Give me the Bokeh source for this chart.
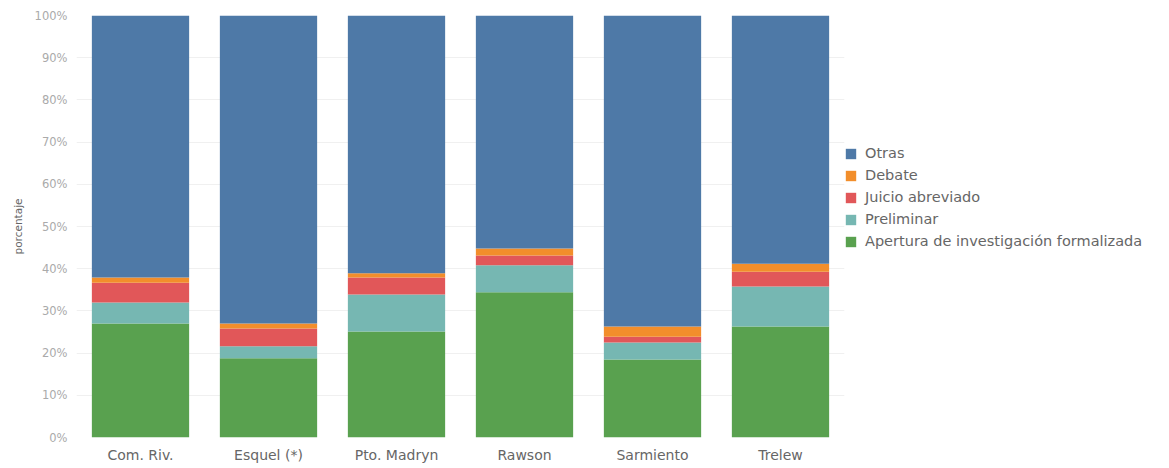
from bokeh.plotting import figure
from bokeh.models import ColumnDataSource, FixedTicker, PrintfTickFormatter, Legend, LegendItem, Range1d, FactorRange
from bokeh.embed import file_html
from bokeh.resources import INLINE

categories = ["Com. Riv.", "Esquel (*)", "Pto. Madryn", "Rawson", "Sarmiento", "Trelew"]
apertura = [27.0, 18.8, 25.1, 34.4, 18.5, 26.3]
preliminar = [5.0, 2.8, 8.8, 6.4, 4.0, 9.5]
juicio = [4.7, 4.2, 4.0, 2.3, 1.4, 3.5]
debate = [1.2, 1.2, 1.0, 1.7, 2.4, 1.9]
otras = [62.1, 73.0, 61.1, 55.2, 73.7, 58.8]

series = ["Apertura de investigación formalizada", "Preliminar", "Juicio abreviado", "Debate", "Otras"]
colors = ["#59A14F", "#76B7B2", "#E15759", "#F28E2B", "#4E79A7"]

src = ColumnDataSource(dict(cat=categories, s0=apertura, s1=preliminar, s2=juicio, s3=debate, s4=otras))

FONT = "DejaVu Sans"

p = figure(x_range=FactorRange(*categories), y_range=Range1d(0, 100),
           frame_width=768, frame_height=422, output_backend="svg", toolbar_location=None,
           min_border_left=76, min_border_right=10, min_border_top=15, min_border_bottom=28)
p.x_range.range_padding = 0

renderers = p.vbar_stack(["s0", "s1", "s2", "s3", "s4"], x="cat", width=0.76, color=colors,
                         source=src, line_color=None)

items = [LegendItem(label=series[i], renderers=[renderers[i]]) for i in range(4, -1, -1)]
legend = Legend(items=items, location=(0, 188), orientation="vertical",
                glyph_width=13, glyph_height=13, label_height=13, spacing=6,
                padding=0, margin=0, border_line_color=None, background_fill_alpha=0,
                label_text_font=FONT, label_text_font_size="14.5px",
                label_text_color="#666666", label_standoff=8)
p.add_layout(legend, "right")

p.outline_line_color = None
p.xgrid.grid_line_color = None
p.ygrid.grid_line_color = "#f0f0f0"
p.ygrid.ticker = FixedTicker(ticks=list(range(0, 101, 10)))

p.yaxis.ticker = FixedTicker(ticks=list(range(0, 101, 10)))
p.yaxis.formatter = PrintfTickFormatter(format="%d%%")
p.yaxis.axis_line_color = None
p.yaxis.major_tick_line_color = None
p.yaxis.minor_tick_line_color = None
p.yaxis.major_label_text_font = FONT
p.yaxis.major_label_text_font_size = "11.5px"
p.yaxis.major_label_text_color = "#aaaaaa"
p.yaxis.major_label_standoff = 3
p.yaxis.axis_label = "porcentaje"
p.yaxis.axis_label_text_font = FONT
p.yaxis.axis_label_text_font_size = "10.5px"
p.yaxis.axis_label_text_font_style = "normal"
p.yaxis.axis_label_text_color = "#666666"
p.yaxis.axis_label_standoff = 8

p.xaxis.axis_line_color = None
p.xaxis.major_tick_line_color = None
p.xaxis.minor_tick_line_color = None
p.xaxis.major_label_text_font = FONT
p.xaxis.major_label_text_font_size = "14px"
p.xaxis.major_label_text_color = "#666666"
p.xaxis.major_label_standoff = 3

open("out.html", "w").write(file_html(p, INLINE))
